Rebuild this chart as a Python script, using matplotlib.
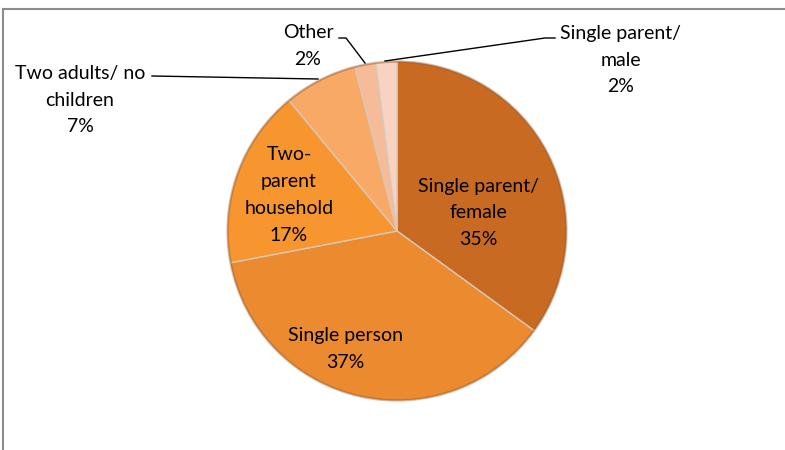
import matplotlib.pyplot as plt
from matplotlib.lines import Line2D
from matplotlib.patches import Circle

plt.rcParams['font.family'] = ['Lato', 'DejaVu Sans']

# household types, clockwise from 12 o'clock
labels = ['Single parent/\nfemale', 'Single person', 'Two-\nparent\nhousehold',
          'Two adults/ no\nchildren', 'Other', 'Single parent/\nmale']
shares = [35, 37, 17, 7, 2, 2]
colors = ['#C96A22', '#EC8A2F', '#F7962F', '#F9A966', '#F6BC9A', '#F9D3C1']

W, H = 785, 450
def py(y):
    # pixel row (from top) -> data y
    return H - y

fig = plt.figure(figsize=(W / 100, H / 100), dpi=100)
ax = fig.add_axes([0, 0, 1, 1])

cx, cy, r = 397, py(231), 170
wedges, _ = ax.pie(shares, colors=colors, startangle=90, counterclock=False,
                   center=(cx, cy), radius=r, frame=True,
                   wedgeprops=dict(edgecolor='#d8c8ba', linewidth=1.0))
# soft darker rim like the bevelled Excel pie
ax.add_patch(Circle((cx, cy), r - 1, fill=False, edgecolor='#9a5a2a', lw=1.2, alpha=0.45))
ax.set_xlim(0, W)
ax.set_ylim(0, H)
ax.set_aspect('equal')
ax.axis('off')

fs = 14
ls = 1.7
txt = ["%s\n%d%%" % (l, s) for l, s in zip(labels, shares)]

# inside labels
ax.text(478, py(213), txt[0], ha='center', va='center', fontsize=fs, linespacing=ls)
ax.text(345, py(349), txt[1], ha='center', va='center', fontsize=fs, linespacing=ls)
ax.text(289, py(195), txt[2], ha='center', va='center', fontsize=fs, linespacing=ls)

# outside labels with leader lines
ax.text(80, py(100), txt[3], ha='center', va='center', fontsize=fs, linespacing=ls)
ax.plot([152, 318], [py(76), py(79)], color='black', lw=1)
ax.text(308, py(46), txt[4], ha='center', va='center', fontsize=fs, linespacing=ls)
ax.plot([339, 346, 365], [py(38), py(38), py(63)], color='black', lw=1)
ax.text(621, py(60), txt[5], ha='center', va='center', fontsize=fs, linespacing=ls)
ax.plot([555, 545, 385], [py(38), py(38), py(61)], color='black', lw=1)

# chart frame (top and left edges visible)
fig.add_artist(Line2D([2.5 / W, 1], [1 - 8.5 / H, 1 - 8.5 / H], color='#8c8c8c', lw=1.5,
                      transform=fig.transFigure))
fig.add_artist(Line2D([2.5 / W, 2.5 / W], [0, 1 - 8.5 / H], color='#8c8c8c', lw=1.5,
                      transform=fig.transFigure))

fig.savefig('out.png', dpi=100)
